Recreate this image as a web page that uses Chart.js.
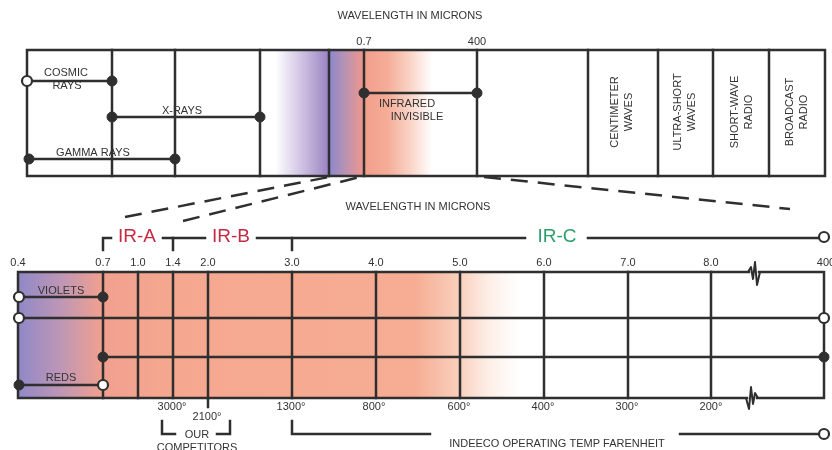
<!DOCTYPE html>
<html>
<head>
<meta charset="utf-8">
<script src="https://cdn.jsdelivr.net/npm/chart.js@4.4.1/dist/chart.umd.min.js"></script>
<style>
  html, body { margin: 0; padding: 0; background: #fff; }
  #wrap { width: 832px; height: 450px; }
</style>
</head>
<body>
<div id="wrap"><canvas id="spectrum" width="832" height="450"></canvas></div>
<script>
// spectrum.js - infrared spectrum diagram (wavelength bands + operating temps)

// ---- data: labels ----
const spectrumNames = ['CENTIMETER|WAVES', 'ULTRA-SHORT|WAVES', 'SHORT-WAVE|RADIO', 'BROADCAST|RADIO'];
const topTicks = ['0.7', '400'];
const waveTicks = ['0.4', '0.7', '1.0', '1.4', '2.0', '3.0', '4.0', '5.0', '6.0', '7.0', '8.0', '400'];
const irBands = ['IR-A', 'IR-B', 'IR-C'];
const tempTicks = ['3000°', '2100°', '1300°', '800°', '600°', '400°', '300°', '200°'];

// ---- layout (diagram units, one unit = one pixel) ----
const waveX = [18, 103, 138, 173, 208, 292, 376, 460, 544, 628, 711, 826];
const tempX = [172, 207, 291, 374, 459, 543, 627, 711];
const tempY = [407, 417, 407, 407, 407, 407, 407, 407];
const topTickX = [364, 477];
const spectrumX = [622, 685, 742, 797];
const irX = [137, 231, 557];
const irColors = ['#c72b43', '#c72b43', '#2d9f69'];

const INK = '#2f2f2f';

const lines = [
    // top band box
    [[27, 50], [825, 50], [825, 176], [27, 176], [27, 50]],
    [[27, 81], [112, 81]],
    [[112, 117], [260, 117]],
    [[27, 159], [175, 159]],
    [[364, 93], [477, 93]],
    // lower band box (break marks drawn separately)
    [[749, 272], [18, 272], [18, 398], [747, 398]],
    [[759, 272], [824, 272], [824, 398], [757, 398]],
    [[18, 318], [824, 318]],
    [[103, 357], [824, 357]],
    [[18, 297], [103, 297]],
    [[18, 385], [103, 385]],
    [[208, 398], [208, 407]],
    // IR brackets
    [[103, 250], [103, 238], [111, 238]],
    [[163, 238], [205, 238]],
    [[173, 238], [173, 250]],
    [[257, 238], [525, 238]],
    [[292, 238], [292, 250]],
    [[588, 238], [819, 238]],
    // bottom brackets
    [[162, 421], [162, 434], [175, 434]],
    [[217, 434], [230, 434], [230, 421]],
    [[292, 421], [292, 434], [430, 434]],
    [[680, 434], [819, 434]]
];
[112, 175, 260, 329, 364, 477, 588, 658, 713, 769].forEach(x => lines.push([[x, 50], [x, 176]]));
waveX.slice(1, 11).forEach(x => lines.push([[x, 272], [x, 398]]));

const breaks = [
    [[748, 272], [751, 267], [753, 279], [755, 262], [757, 285], [760, 272]],
    [[758, 398], [755, 393], [753, 404], [751, 387], [749, 409], [746, 398]]
];

const dashed = [
    [[125, 217], [329, 177]],
    [[183, 221], [360, 177]],
    [[484, 177], [790, 209]]
];

const dots = [[112, 81], [112, 117], [260, 117], [29, 159], [175, 159], [364, 93], [477, 93],
    [103, 297], [19, 385], [103, 357], [824, 357]];
const rings = [[27, 81], [19, 297], [19, 318], [103, 385], [824, 318], [824, 237], [824, 434]];

const pts = arr => arr.map(p => ({ x: p[0], y: p[1] }));

const datasets = [];
lines.forEach(l => datasets.push({
    type: 'line', data: pts(l), borderColor: INK, borderWidth: 2.5, order: 2,
    pointRadius: 0, fill: false, tension: 0, clip: false, borderCapStyle: 'square'
}));
breaks.forEach(l => datasets.push({
    type: 'line', data: pts(l), borderColor: INK, borderWidth: 2, order: 2, borderJoinStyle: 'round',
    pointRadius: 0, fill: false, tension: 0, clip: false
}));
dashed.forEach(l => datasets.push({
    type: 'line', data: pts(l), borderColor: INK, borderWidth: 2.5, borderDash: [17, 10], order: 2,
    pointRadius: 0, fill: false, tension: 0, clip: false
}));
// markers go on top of the lines (lower order is drawn last)
datasets.push({
    type: 'scatter', data: pts(dots), pointRadius: 5, backgroundColor: INK, order: 0,
    borderColor: INK, borderWidth: 1, clip: false
});
datasets.push({
    type: 'scatter', data: pts(rings), pointRadius: 5, backgroundColor: '#fff', order: 0,
    borderColor: INK, borderWidth: 2.2, clip: false
});

// colour wash behind the bands
const washPlugin = {
    id: 'wash',
    beforeDatasetsDraw(chart) {
        const { ctx, scales: { x, y } } = chart;
        const band = (x0, x1, y0, y1, stops) => {
            const px0 = x.getPixelForValue(x0), px1 = x.getPixelForValue(x1);
            const g = ctx.createLinearGradient(px0, 0, px1, 0);
            stops.forEach(s => g.addColorStop(s[0], s[1]));
            ctx.fillStyle = g;
            ctx.fillRect(px0, y.getPixelForValue(y0), px1 - px0, y.getPixelForValue(y1) - y.getPixelForValue(y0));
        };
        ctx.save();
        band(262, 329, 50, 176, [[0, '#ffffff'], [0.2, '#ffffff'], [0.45, '#e2d8ee'], [1, '#9a82c2']]);
        band(329, 364, 50, 176, [[0, '#8a88cc'], [0.45, '#b792b4'], [1, '#f2968a']]);
        band(364, 432, 50, 176, [[0, '#f39e8c'], [0.35, '#f5ad98'], [0.7, '#fad6ca'], [1, '#ffffff']]);
        band(18, 540, 272, 398, [[0, '#9088c8'], [0.08, '#bd96b6'], [0.16, '#f1a08f'], [0.3, '#f5a88f'],
            [0.76, '#f6ad93'], [0.84, '#f9cdb9'], [0.9, '#fdeee6'], [0.96, '#ffffff'], [1, '#ffffff']]);
        ctx.restore();
    }
};

// all the words of the diagram
const textPlugin = {
    id: 'words',
    afterDatasetsDraw(chart) {
        const { ctx, scales: { x, y } } = chart;
        const put = (s, vx, vy, font, color) => {
            ctx.font = font || '11px "Liberation Sans", Arial, sans-serif';
            ctx.fillStyle = color || '#333';
            ctx.fillText(s, x.getPixelForValue(vx), y.getPixelForValue(vy));
        };
        ctx.save();
        ctx.textAlign = 'center';
        ctx.textBaseline = 'middle';
        put('WAVELENGTH IN MICRONS', 410, 16);
        topTicks.forEach((t, i) => put(t, topTickX[i], 42));
        put('COSMIC', 66, 73); put('RAYS', 67, 86);
        put('X-RAYS', 182, 111);
        put('GAMMA RAYS', 93, 153);
        put('INFRARED', 407, 104); put('INVISIBLE', 417, 117);
        spectrumNames.forEach((n, i) => {
            const parts = n.split('|');
            ctx.save();
            ctx.translate(x.getPixelForValue(spectrumX[i]), y.getPixelForValue(112));
            ctx.rotate(-Math.PI / 2);
            ctx.font = '11px "Liberation Sans", Arial, sans-serif';
            ctx.fillStyle = '#333';
            ctx.fillText(parts[0], 0, -7);
            ctx.fillText(parts[1], 0, 7);
            ctx.restore();
        });
        put('WAVELENGTH IN MICRONS', 418, 207);
        irBands.forEach((b, i) => put(b, irX[i], 237, '19px "Liberation Sans", Arial, sans-serif', irColors[i]));
        waveTicks.forEach((t, i) => put(t, waveX[i], 263));
        put('VIOLETS', 61, 291);
        put('REDS', 61, 378);
        tempTicks.forEach((t, i) => put(t, tempX[i], tempY[i]));
        put('OUR', 197, 435);
        put('COMPETITORS', 197, 448);
        put('INDEECO OPERATING TEMP FARENHEIT', 557, 444);
        ctx.restore();
    }
};

new Chart(document.getElementById('spectrum'), {
    type: 'line',
    data: { datasets: datasets },
    options: {
        responsive: false,
        animation: false,
        devicePixelRatio: 1,
        layout: { padding: 0, autoPadding: false },
        plugins: { legend: { display: false }, tooltip: { enabled: false } },
        scales: {
            x: { type: 'linear', min: 0, max: 832, display: false },
            y: { type: 'linear', min: 0, max: 450, reverse: true, display: false }
        }
    },
    plugins: [washPlugin, textPlugin]
});
</script>
</body>
</html>
